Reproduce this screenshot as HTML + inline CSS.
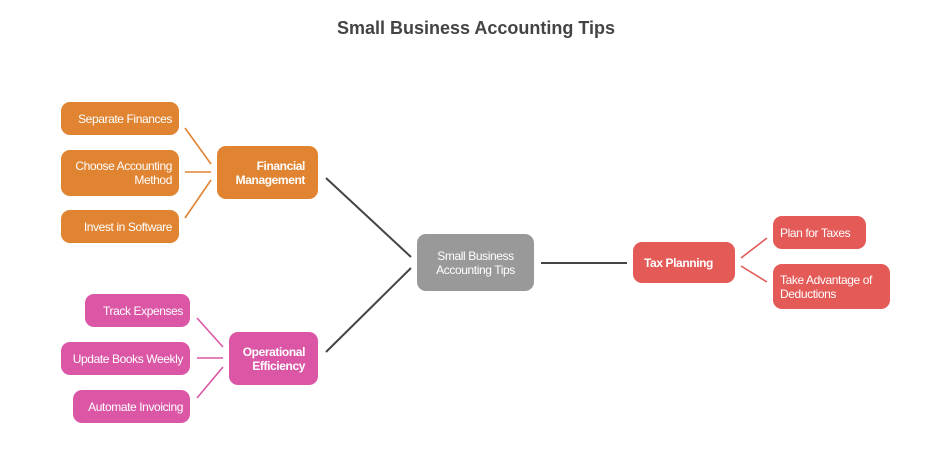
<!DOCTYPE html>
<html><head><style>
body{margin:0;width:952px;height:460px;background:#fff;position:relative;font-family:"Liberation Sans",Arial,sans-serif;overflow:hidden}
.t{position:absolute;top:18px;left:0;width:952px;text-align:center;font-size:18px;font-weight:bold;color:#444}
.n{position:absolute;box-sizing:border-box;border-radius:9px;color:#fff;font-size:12px;letter-spacing:-0.4px;line-height:14px;display:flex;align-items:center;padding:0 7px;white-space:nowrap}
.o{background:#E08432}.p{background:#DB57A6}.r{background:#E35A57}.g{background:#999}
.R{justify-content:flex-end;text-align:right}
.b{font-weight:bold}
svg{position:absolute;left:0;top:0}
</style></head><body>
<div class="t">Small Business Accounting Tips</div>
<svg width="952" height="460">
<g stroke="#444" stroke-width="2"><line x1="326" y1="178" x2="411" y2="257"/><line x1="326" y1="352" x2="411" y2="268"/><line x1="541" y1="263" x2="627" y2="263"/></g>
<g stroke="#E08432" stroke-width="1.6"><line x1="185" y1="128" x2="211" y2="164"/><line x1="185" y1="172" x2="211" y2="172"/><line x1="185" y1="218" x2="211" y2="180"/></g>
<g stroke="#DB57A6" stroke-width="1.6"><line x1="197" y1="318" x2="223" y2="347"/><line x1="197" y1="358" x2="223" y2="358"/><line x1="197" y1="398" x2="223" y2="367"/></g>
<g stroke="#E35A57" stroke-width="1.6"><line x1="741" y1="258" x2="767" y2="238"/><line x1="741" y1="266" x2="767" y2="282"/></g>
</svg>
<div class="n o R" style="left:61px;top:102px;width:118px;height:33px">Separate Finances</div>
<div class="n o R" style="left:61px;top:150px;width:118px;height:46px">Choose Accounting<br>Method</div>
<div class="n o R" style="left:61px;top:210px;width:118px;height:33px">Invest in Software</div>
<div class="n o R b" style="left:217px;top:146px;width:101px;height:53px;padding-right:13px">Financial<br>Management</div>
<div class="n p R" style="left:85px;top:294px;width:105px;height:33px">Track Expenses</div>
<div class="n p R" style="left:61px;top:342px;width:129px;height:33px">Update Books Weekly</div>
<div class="n p R" style="left:73px;top:390px;width:117px;height:33px">Automate Invoicing</div>
<div class="n p R b" style="left:229px;top:332px;width:89px;height:53px;padding-right:13px">Operational<br>Efficiency</div>
<div class="n g" style="left:417px;top:234px;width:117px;height:57px;justify-content:center;text-align:center">Small Business<br>Accounting Tips</div>
<div class="n r b" style="left:633px;top:242px;width:102px;height:41px;padding-left:11px">Tax Planning</div>
<div class="n r" style="left:773px;top:216px;width:93px;height:33px">Plan for Taxes</div>
<div class="n r" style="left:773px;top:264px;width:117px;height:45px">Take Advantage of<br>Deductions</div>
</body></html>
